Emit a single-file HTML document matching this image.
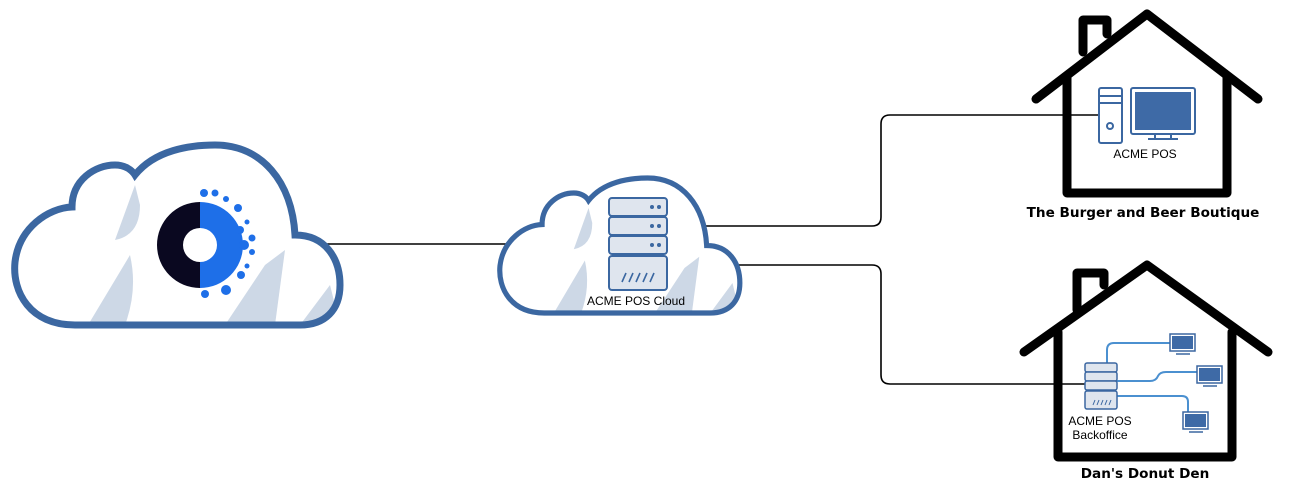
<!DOCTYPE html>
<html><head><meta charset="utf-8"><style>html,body{margin:0;padding:0;background:#fff}svg{display:block}</style></head>
<body>
<svg width="1291" height="501" viewBox="0 0 1291 501" xmlns="http://www.w3.org/2000/svg">
<defs>
<path id="cl" d="M75,325 C30,325 12,292 15,262 C19,228 48,208 72,207 C72,180 95,165 115,165 C125,165 132,170 135,175 C155,150 190,145 215,145 C262,145 292,182 295,235 C325,235 340,258 340,285 C340,310 325,325 300,325 Z"/>
<clipPath id="cc"><use href="#cl"/></clipPath>
</defs>
<g fill="none" stroke="#000" stroke-width="1.6">
<path d="M325,244 H607"/>
<path d="M667,226 H872 Q881,226 881,217 V124 Q881,115 890,115 H1099"/>
<path d="M667,265 H872 Q881,265 881,274 V375 Q881,384 890,384 H1085"/>
</g>
<use href="#cl" fill="#fff"/>
<g clip-path="url(#cc)" fill="#cdd8e6">
<path d="M135,185 L115,240 Q140,235 140,205 Z"/>
<path d="M130,255 L88,325 L125,325 Q138,290 130,255 Z"/>
<path d="M265,265 L225,325 L275,325 L285,250 Z"/>
<path d="M330,285 L300,325 L340,325 Z"/>
</g>
<use href="#cl" fill="none" stroke="#3b67a1" stroke-width="7"/>
<path d="M200,202 A43,43 0 0 0 200,288 L200,262 A17,17 0 0 1 200,228 Z" fill="#0a0820"/>
<path d="M200,202 A43,43 0 0 1 200,288 L200,262 A17,17 0 0 0 200,228 Z" fill="#1e6fe8"/>
<g fill="#1e6fe8">
<circle cx="204" cy="193" r="4"/><circle cx="215" cy="193" r="3.5"/><circle cx="226" cy="199" r="3"/><circle cx="238" cy="208" r="4"/>
<circle cx="247" cy="222" r="2.5"/><circle cx="252" cy="238" r="3.5"/><circle cx="252" cy="252" r="3"/><circle cx="247" cy="266" r="2.5"/>
<circle cx="241" cy="275" r="4"/><circle cx="226" cy="290" r="5"/><circle cx="205" cy="294" r="4"/><circle cx="244" cy="245" r="5"/><circle cx="240" cy="230" r="4"/>
</g>
<g transform="translate(500,178) scale(0.738,0.75) translate(-15,-145)">
<use href="#cl" fill="#fff"/>
<g clip-path="url(#cc)" fill="#cdd8e6">
<path d="M135,185 L115,240 Q140,235 140,205 Z"/>
<path d="M130,255 L88,325 L125,325 Q138,290 130,255 Z"/>
<path d="M265,265 L225,325 L275,325 L285,250 Z"/>
<path d="M330,285 L300,325 L340,325 Z"/>
</g>
<use href="#cl" fill="none" stroke="#3b67a1" stroke-width="7"/>
</g>
<g fill="#dfe5ee" stroke="#3b67a1" stroke-width="2">
<rect x="609" y="198" width="58" height="18" rx="3"/>
<rect x="609" y="217" width="58" height="18" rx="3"/>
<rect x="609" y="236" width="58" height="18" rx="3"/>
<rect x="609" y="256" width="58" height="34" rx="3"/>
</g>
<g fill="#3b67a1"><circle cx="652" cy="207" r="2"/><circle cx="659" cy="207" r="2"/><circle cx="652" cy="226" r="2"/><circle cx="659" cy="226" r="2"/><circle cx="652" cy="245" r="2"/><circle cx="659" cy="245" r="2"/></g>
<path d="M622,282 l4,-9 M629,282 l4,-9 M636,282 l4,-9 M643,282 l4,-9 M650,282 l4,-9" stroke="#3b67a1" stroke-width="1.6"/>
<text x="636" y="305" font-family="Liberation Sans, sans-serif" font-size="12" text-anchor="middle">ACME POS Cloud</text>
<g fill="none" stroke="#000" stroke-width="9" stroke-linecap="round" stroke-linejoin="round">
<path d="M1083,52 V20 H1107 V34"/>
<path d="M1036,99 L1147,14 L1258,99"/>
<path d="M1067,76 V193 H1227 V76"/>
</g>
<g stroke="#3b67a1" stroke-width="2" fill="#fff">
<rect x="1099" y="88" width="23" height="55" rx="2"/>
<path d="M1100,96 H1121 M1100,103 H1121" fill="none"/>
<circle cx="1110" cy="126" r="3"/>
<rect x="1131" y="88" width="64" height="46" rx="2"/>
<rect x="1135" y="92" width="56" height="38" fill="#3e6aa6" stroke="none"/>
<path d="M1155,134 V138 M1171,134 V138 M1148,139 H1178"/>
</g>
<text x="1145" y="158" font-family="Liberation Sans, sans-serif" font-size="12" text-anchor="middle">ACME POS</text>
<text x="1143" y="217" font-family="DejaVu Sans, sans-serif" font-weight="bold" font-size="13.6" text-anchor="middle">The Burger and Beer Boutique</text>
<g fill="none" stroke="#000" stroke-width="9" stroke-linecap="round" stroke-linejoin="round">
<path d="M1077,310 V273 H1104 V285"/>
<path d="M1024,352 L1147,265 L1268,352"/>
<path d="M1058,332 V457 H1232 V332"/>
</g>
<g fill="none" stroke="#4b90d0" stroke-width="2">
<path d="M1107,363 V350 Q1107,343 1114,343 H1170"/>
<path d="M1117,381 H1150 Q1156,381 1158,376 Q1160,372 1166,372 H1197"/>
<path d="M1117,396 H1182 Q1188,396 1188,402 V412"/>
</g>
<g fill="#dfe5ee" stroke="#3b67a1" stroke-width="1.5">
<rect x="1085" y="363" width="32" height="9" rx="2"/>
<rect x="1085" y="372" width="32" height="9" rx="2"/>
<rect x="1085" y="381" width="32" height="9" rx="2"/>
<rect x="1085" y="391" width="32" height="18" rx="2"/>
</g>
<path d="M1093,405 l2,-5 M1097,405 l2,-5 M1101,405 l2,-5 M1105,405 l2,-5 M1109,405 l2,-5" stroke="#3b67a1" stroke-width="1"/>
<g stroke="#3b67a1" stroke-width="1.5">
<rect x="1170" y="334" width="25" height="17" fill="#fff"/><rect x="1172" y="336" width="21" height="13" fill="#3e6aa6" stroke="none"/><path d="M1176,354 H1190"/>
<rect x="1197" y="366" width="25" height="17" fill="#fff"/><rect x="1199" y="368" width="21" height="13" fill="#3e6aa6" stroke="none"/><path d="M1203,386 H1217"/>
<rect x="1183" y="412" width="25" height="17" fill="#fff"/><rect x="1185" y="414" width="21" height="13" fill="#3e6aa6" stroke="none"/><path d="M1189,432 H1203"/>
</g>
<text x="1100" y="425" font-family="Liberation Sans, sans-serif" font-size="12" text-anchor="middle">ACME POS</text>
<text x="1100" y="439" font-family="Liberation Sans, sans-serif" font-size="12" text-anchor="middle">Backoffice</text>
<text x="1145" y="478" font-family="DejaVu Sans, sans-serif" font-weight="bold" font-size="13.6" text-anchor="middle">Dan's Donut Den</text>
</svg>
</body></html>
